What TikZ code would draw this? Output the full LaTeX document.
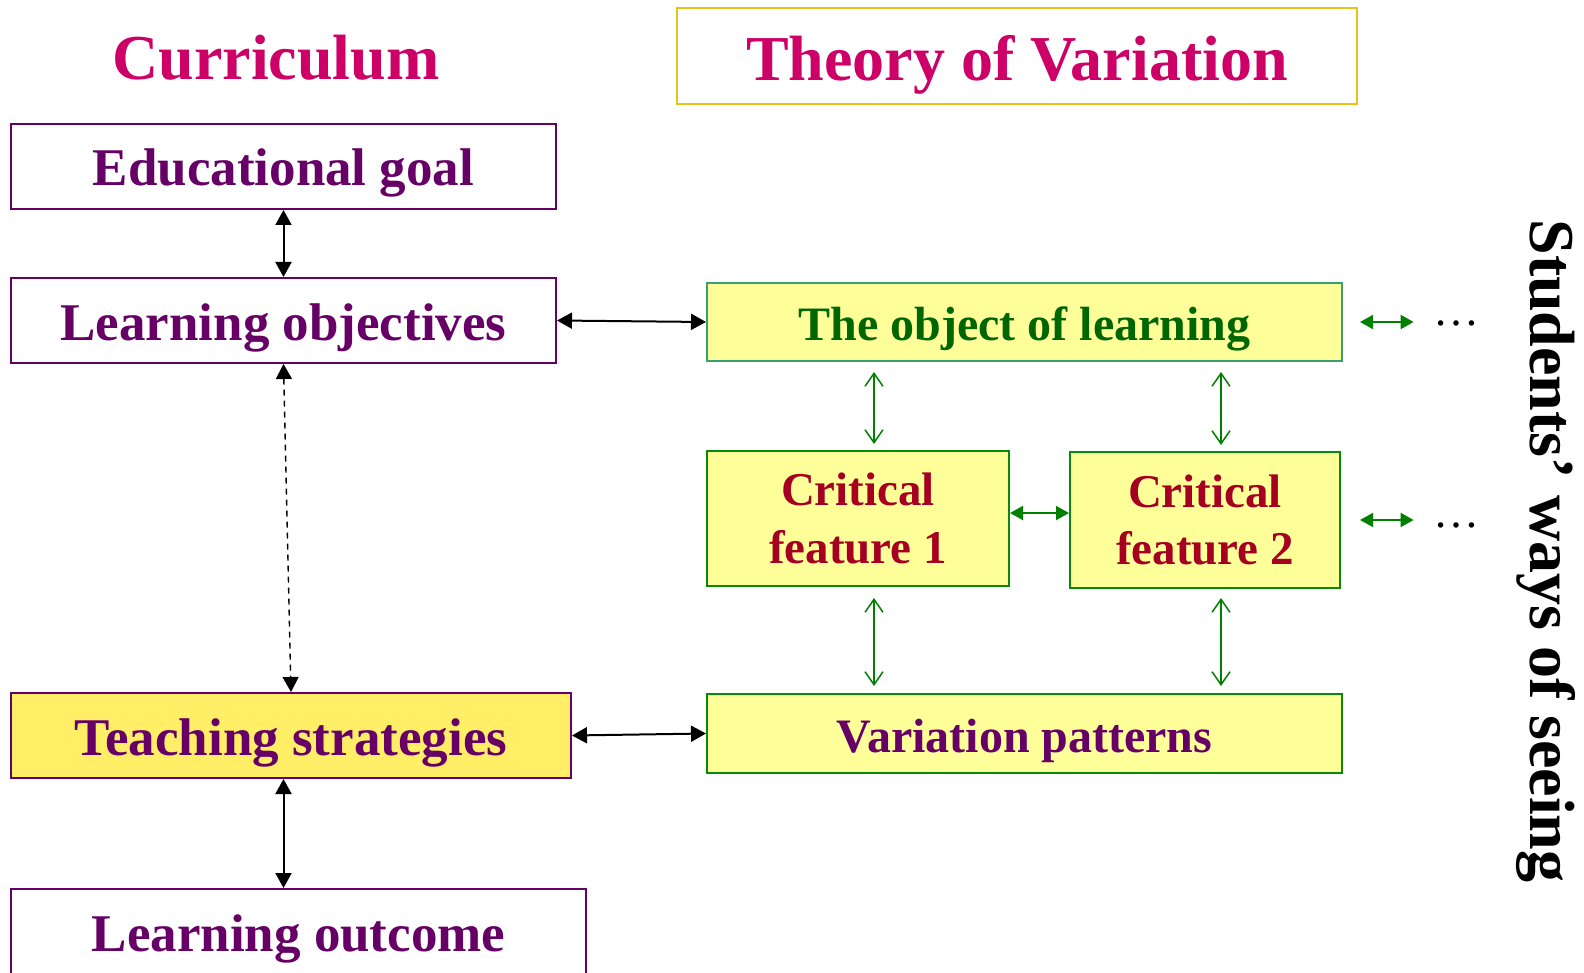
\documentclass[tikz,border=0pt]{standalone}
\usepackage{fontspec}
\setmainfont{Liberation Serif}
\usetikzlibrary{arrows.meta,calc}

\definecolor{titlemag}{HTML}{CC0066}
\definecolor{plum}{HTML}{660066}
\definecolor{gold}{HTML}{E6C21A}
\definecolor{paleyel}{HTML}{FFFF99}
\definecolor{strongyel}{HTML}{FFEE66}
\definecolor{seagrn}{HTML}{3C9F6E}
\definecolor{boxgrn}{HTML}{0A8A0A}
\definecolor{darkgrn}{HTML}{006600}
\definecolor{crimson}{HTML}{A50021}
\definecolor{arrgrn}{HTML}{008000}

\tikzset{
  bigtitle/.style={font=\fontsize{32}{36}\selectfont\bfseries, inner sep=0pt},
  cbox/.style={draw=plum, line width=1pt, fill=white, text=plum,
    font=\fontsize{26.5}{30}\selectfont\bfseries, inner sep=0pt,
    text height=19.5pt, text depth=0pt},
  vbox/.style={draw=boxgrn, line width=1pt, fill=paleyel,
    font=\fontsize{24}{28}\selectfont\bfseries, inner sep=0pt,
    text height=18.5pt, text depth=0pt},
  crit/.style={vbox, text=crimson, align=center, text height=, text depth=,
    font=\fontsize{23.5}{28.8}\selectfont\bfseries},
  blackarrow/.style={line width=1pt, black,
    {Triangle[length=7.5pt,width=8pt]}-{Triangle[length=7.5pt,width=8pt]}},
  dasharrow/.style={line width=0.7pt, black, dash pattern=on 3pt off 2.5pt,
    {Triangle[length=7.5pt,width=8pt]}-{Triangle[length=7.5pt,width=8pt]}},
  openarrow/.style={line width=0.75pt, arrgrn,
    {Straight Barb[length=6.5pt,width=9pt]}-{Straight Barb[length=6.5pt,width=9pt]}},
  fillarrow/.style={line width=1pt, arrgrn,
    {Triangle[length=6.5pt,width=7pt]}-{Triangle[length=6.5pt,width=7pt]}},
  dots/.style={font=\fontsize{23}{26}\selectfont, inner sep=0pt}
}

\begin{document}
\begin{tikzpicture}[x=0.5pt, y=-0.5pt]
\useasboundingbox (0,0) rectangle (1584,973);

% column headings
\node[bigtitle, text=titlemag] (curr) at (276,58) {Curriculum};
\node[draw=gold, line width=1pt, minimum width=340pt, minimum height=48pt,
      bigtitle, text=titlemag, text height=24.5pt, text depth=0pt] (theory) at (1017,56) {Theory of Variation};

% curriculum column
\node[cbox, minimum width=272.5pt, minimum height=42.5pt] (edu) at (283.5,166.5) {Educational goal};
\node[cbox, minimum width=272.5pt, minimum height=42.5pt] (lobj) at (283.5,320.5) {Learning objectives};
\node[cbox, fill=strongyel, minimum width=280pt, minimum height=42.5pt] (teach) at (291,735.5) {Teaching strategies};
\node[cbox, minimum width=287.5pt, minimum height=43pt] (outcome) at (298.5,932) {Learning outcome};

% variation column
\node[vbox, draw=seagrn, text=darkgrn, minimum width=317.5pt, minimum height=39pt] (object) at (1024.5,322) {The object of learning};
\node[crit, minimum width=151pt, minimum height=67.5pt] (cf1) at (858,518.5) {Critical\\feature 1};
\node[crit, minimum width=135pt, minimum height=68pt] (cf2) at (1205,520) {Critical\\feature 2};
\node[vbox, text=plum, minimum width=317.5pt, minimum height=39.5pt] (var) at (1024.5,733.5) {Variation patterns};

% side label and continuation marks
\node[bigtitle, rotate=-90] (seeing) at (1546,551) {Students’ ways of seeing};
\node[dots] (dots1) at (1456,323) {…};
\node[dots] (dots2) at (1456,525) {…};

% helper columns and rows
\coordinate (colA) at (874,0);
\coordinate (colB) at (1221,0);
\coordinate (rowC) at (0,513);

% curriculum links
\draw[blackarrow] (edu.south) -- (lobj.north);
\draw[dasharrow] (lobj.south) -- (teach.north);
\draw[blackarrow] (teach.south -| lobj.south) -- (outcome.north -| lobj.south);
\draw[blackarrow] (lobj.east) -- (object.west);
\draw[blackarrow] (teach.east) -- (var.west);

% variation links
\draw[openarrow, shorten <=5pt, shorten >=3pt] (object.south -| colA) -- (cf1.north -| colA);
\draw[openarrow, shorten <=5pt, shorten >=3pt] (object.south -| colB) -- (cf2.north -| colB);
\draw[openarrow, shorten <=5.5pt, shorten >=3.5pt] (cf1.south -| colA) -- (var.north -| colA);
\draw[openarrow, shorten <=4.5pt, shorten >=3.5pt] (cf2.south -| colB) -- (var.north -| colB);
\draw[fillarrow] (cf1.east |- rowC) -- (cf2.west |- rowC);
\draw[fillarrow] ([xshift=8.5pt]object.east) -- ([xshift=-9.5pt]dots1.west |- object.east);
\draw[fillarrow] ([xshift=9.5pt]cf2.east) -- ([xshift=-9.5pt]dots2.west |- cf2.east);
\end{tikzpicture}
\end{document}
